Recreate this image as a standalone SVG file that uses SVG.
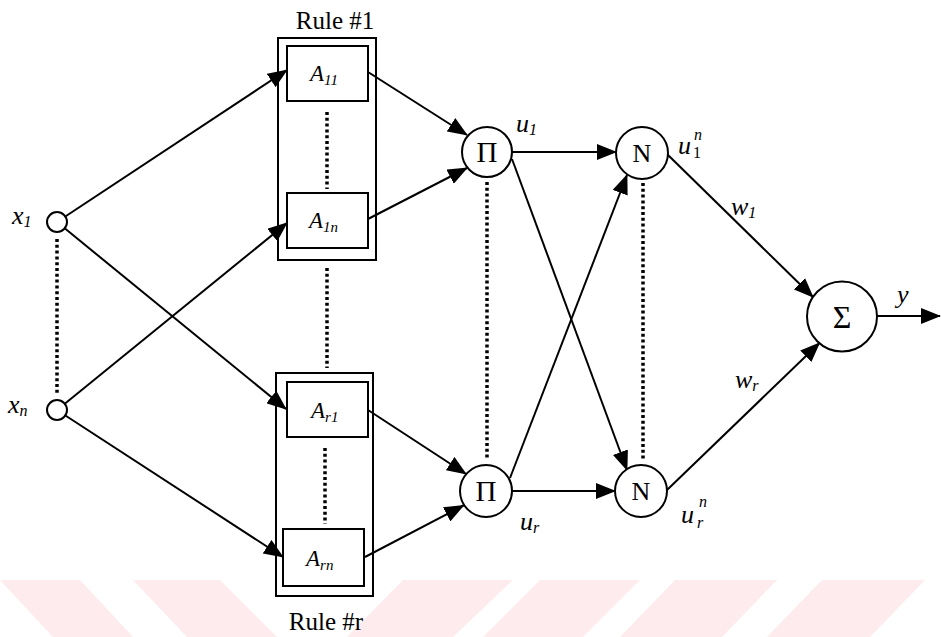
<svg xmlns="http://www.w3.org/2000/svg" width="941" height="637" viewBox="0 0 941 637">
<style>
.bg{fill:#fdebee;stroke:none}
.ln{stroke:#000;stroke-width:2;fill:none}
.ar{marker-end:url(#ah)}
.dot{stroke:#000;stroke-width:3.5;stroke-dasharray:3 2.8;fill:none}
.box{fill:#fff;stroke:#000;stroke-width:2}
.outer{fill:none;stroke:#000;stroke-width:2}
.nd{fill:#fff;stroke:#000;stroke-width:2}
.t{font-family:"Liberation Serif","Times New Roman",serif;fill:#000}
.it{font-style:italic}
.lab{font-size:26px}
.sub{font-size:16px}
.am{font-size:23px}
.asub{font-size:15px}
</style>
<defs>
<marker id="ah" markerUnits="userSpaceOnUse" viewBox="0 0 20 16" markerWidth="20" markerHeight="16" refX="19" refY="8" orient="auto">
<path d="M0,0 L20,8 L0,16 z" fill="#000"/>
</marker>
</defs>
<g id="watermark">
<polygon class="bg" points="0,580 80,580 133,637 53,637"/>
<polygon class="bg" points="133,580 220,580 277,637 187,637"/>
<polygon class="bg" points="403,580 513,580 453,637 347,637"/>
<polygon class="bg" points="540,580 640,580 583,637 483,637"/>
<polygon class="bg" points="675,580 777,580 722,637 620,637"/>
<polygon class="bg" points="822,580 925,580 870,637 767,637"/>
</g>
<g id="ellipses">
<line class="dot" x1="57" y1="239" x2="57" y2="394"/>
<line class="dot" x1="327" y1="112" x2="327" y2="189"/>
<line class="dot" x1="327" y1="268" x2="327" y2="368"/>
<line class="dot" x1="325" y1="448" x2="325" y2="524"/>
<line class="dot" x1="487" y1="182" x2="487" y2="459"/>
<line class="dot" x1="643" y1="183" x2="643" y2="460"/>
</g>
<g id="connectors">
<line class="ln ar" x1="65.3" y1="216.5" x2="287" y2="70"/>
<line class="ln ar" x1="64.7" y1="228.3" x2="286" y2="409"/>
<line class="ln ar" x1="64.8" y1="403.7" x2="287" y2="223"/>
<line class="ln ar" x1="65.4" y1="415.5" x2="283" y2="557"/>
<line class="ln ar" x1="368" y1="72" x2="467" y2="135"/>
<line class="ln ar" x1="368" y1="219" x2="467" y2="168"/>
<line class="ln ar" x1="368" y1="410" x2="466" y2="474"/>
<line class="ln ar" x1="365" y1="557" x2="463.5" y2="505.5"/>
<line class="ln ar" x1="512" y1="152" x2="616" y2="152"/>
<line class="ln ar" x1="512" y1="159" x2="627" y2="470"/>
<line class="ln ar" x1="510" y1="478" x2="627" y2="175"/>
<line class="ln ar" x1="512" y1="491" x2="615" y2="491"/>
<line class="ln ar" x1="668" y1="155" x2="813" y2="297"/>
<line class="ln ar" x1="667" y1="490" x2="819.5" y2="343"/>
<line class="ln ar" x1="877" y1="316" x2="940" y2="316"/>
</g>
<g id="x1">
<circle class="nd" cx="57" cy="222" r="10"/>
<text class="t it lab" x="12" y="224">x<tspan class="sub" dy="3">1</tspan></text>
</g>
<g id="xn">
<circle class="nd" cx="57" cy="410" r="10"/>
<text class="t it lab" x="8" y="413">x<tspan class="sub" dy="3">n</tspan></text>
</g>
<g id="rule1">
<rect class="outer" x="278" y="38" width="98" height="222"/>
<text class="t" x="335" y="29" font-size="25" text-anchor="middle">Rule #1</text>
</g>
<g id="A11">
<rect class="box" x="287" y="46" width="81" height="55"/>
<text class="t it am" x="310" y="81">A<tspan class="asub" dy="4">11</tspan></text>
</g>
<g id="A1n">
<rect class="box" x="287" y="193" width="81" height="55"/>
<text class="t it am" x="309" y="228">A<tspan class="asub" dy="4">1n</tspan></text>
</g>
<g id="ruler">
<rect class="outer" x="276" y="373" width="97" height="223"/>
<text class="t" x="326" y="630" font-size="25" text-anchor="middle">Rule #r</text>
</g>
<g id="Ar1">
<rect class="box" x="287" y="382" width="81" height="55"/>
<text class="t it am" x="311" y="418">A<tspan class="asub" dy="4">r1</tspan></text>
</g>
<g id="Arn">
<rect class="box" x="283" y="529" width="81" height="57"/>
<text class="t it am" x="306" y="566">A<tspan class="asub" dy="4">rn</tspan></text>
</g>
<g id="pi1">
<circle class="nd" cx="487" cy="152" r="25"/>
<text class="t" x="487" y="162" font-size="29" text-anchor="middle">Π</text>
<text class="t it lab" x="516" y="132">u<tspan class="sub" dy="3">1</tspan></text>
</g>
<g id="pir">
<circle class="nd" cx="486" cy="491" r="26"/>
<text class="t" x="486" y="501" font-size="29" text-anchor="middle">Π</text>
<text class="t it lab" x="520" y="530">u<tspan class="sub" dy="3">r</tspan></text>
</g>
<g id="n1">
<circle class="nd" cx="642" cy="153" r="26"/>
<text class="t" x="642" y="162" font-size="26" text-anchor="middle">N</text>
<text class="t it lab" x="678" y="154">u</text>
<text class="t sub" x="693" y="158">1</text>
<text class="t it sub" x="694" y="140">n</text>
</g>
<g id="nr">
<circle class="nd" cx="641" cy="491" r="26"/>
<text class="t" x="641" y="500" font-size="26" text-anchor="middle">N</text>
<text class="t it lab" x="681" y="523">u</text>
<text class="t it sub" x="697" y="528">r</text>
<text class="t it sub" x="699" y="507">n</text>
</g>
<g id="sigma">
<circle class="nd" cx="842" cy="316.5" r="35"/>
<text class="t" x="842" y="328" font-size="32" text-anchor="middle">Σ</text>
</g>
<g id="labels">
<text class="t it lab" x="731" y="215">w<tspan class="sub" dy="3">1</tspan></text>
<text class="t it lab" x="735" y="388">w<tspan class="sub" dy="3">r</tspan></text>
<text class="t it lab" x="897" y="303">y</text>
</g>
</svg>
